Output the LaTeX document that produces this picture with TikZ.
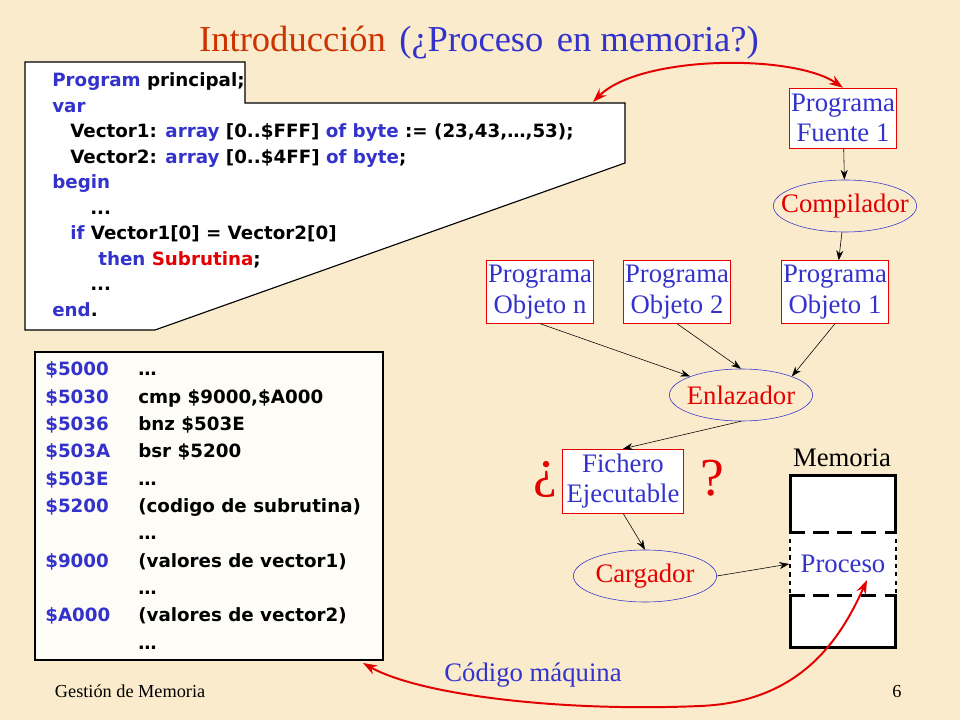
\documentclass[tikz,border=0pt]{standalone}
\usepackage{fontspec}
\setmainfont{Liberation Serif}
\newfontfamily\codefont{DejaVu Sans}
\usetikzlibrary{arrows.meta,shapes.geometric}
\definecolor{fondo}{RGB}{249,235,203}
\definecolor{azul}{RGB}{51,51,204}
\definecolor{rojo}{RGB}{228,0,0}
\definecolor{naranja}{RGB}{204,51,0}
\newcommand{\kw}[1]{\textcolor{azul}{#1}}

\begin{document}
\begin{tikzpicture}[x=0.025cm,y=-0.025cm,>={Stealth[length=7pt,width=5pt]},
    caja/.style={draw=rojo,fill=white,text=azul,align=center,inner xsep=1pt,
        minimum height=1.5cm,font=\fontsize{19}{21.5}\selectfont},
    elip/.style={ellipse,draw=azul,text=rojo,inner sep=0pt,minimum width=3.58cm,
        minimum height=1.3cm,font=\fontsize{19}{21.5}\selectfont},
    codigo/.style={anchor=base west,inner sep=0pt,font=\codefont\bfseries\fontsize{13}{15}\selectfont},
    flecha/.style={->,black},
    rojoflecha/.style={{Stealth[length=10pt,width=7pt]}-{Stealth[length=10pt,width=7pt]},rojo,line width=1.4pt}]
        \fill[fondo] (0,0) rectangle (960,720);
        \useasboundingbox (0,0) rectangle (960,720);
        \node[anchor=base,font=\fontsize{26}{30}\selectfont] (titulo) at (479,52)
            {\textcolor{naranja}{Introducción}\ \hspace{3pt}\textcolor{azul}{(¿Proceso\ \hspace{3pt}en memoria?)}};
        % programa fuente
        \draw[fill=white,line width=0.8pt] (25,62) -- (245,62) -- (245,103) -- (625,103)
            -- (625,163) -- (155,330) -- (25,330) -- cycle;
        \foreach \yy/\xx/\linea in {87/52/{\kw{Program} principal;}, 112.5/52/{\kw{var}},
            138/70/{Vector1: \kw{array} [0..\$FFF] \kw{of byte} := (23,43,…,53);},
            163.5/70/{Vector2: \kw{array} [0..\$4FF] \kw{of byte};}, 189/52/{\kw{begin}},
            214.5/90/{...}, 240/70/{\kw{if} Vector1[0] = Vector2[0]},
            265.5/98/{\kw{then} \textcolor{rojo}{Subrutina};}, 291/90/{...}, 316.5/52/{\kw{end}.}}
            \node[codigo] at (\xx,\yy) {\linea};
        % codigo maquina
        \draw[fill=white!85!fondo,line width=0.8pt] (35,352) rectangle (383,660);
        \foreach \i/\dir/\ins in {0/\$5000/…, 1/\$5030/{cmp \$9000,\$A000}, 2/\$5036/{bnz \$503E},
            3/\$503A/{bsr \$5200}, 4/\$503E/…, 5/\$5200/{(codigo de subrutina)}, 6//…,
            7/\$9000/{(valores de vector1)}, 8//…, 9/\$A000/{(valores de vector2)}, 10//…}
        {
            \node[codigo,text=azul] at (45,376+27.3*\i) {\dir};
            \node[codigo] at (138,376+27.3*\i) {\ins};
        }
        % diagrama
        \node[caja] (pf1) at (843,118) {Programa\\Fuente 1};
        \node[elip] (comp) at (845,206) {\makebox[0pt]{Compilador}};
        \node[caja] (po1) at (835,292) {Programa\\Objeto 1};
        \node[caja] (po2) at (677,292) {Programa\\Objeto 2};
        \node[caja] (pon) at (540,292) {Programa\\Objeto n};
        \node[elip] (enl) at (741,395) {\makebox[0pt]{Enlazador}};
        \node[caja,minimum width=3.02cm] (fich) at (623,481) {Fichero\\Ejecutable};
        \node[elip] (carg) at (645,576) {\makebox[0pt]{Cargador}};
        \node[text=rojo,font=\fontsize{38}{40}\selectfont] (abre) at (545,479) {¿};
        \node[text=rojo,font=\fontsize{38}{40}\selectfont] (cierra) at (712,478) {?};
        \node[anchor=base,font=\fontsize{19}{21.5}\selectfont] (memtxt) at (842,467) {Memoria};
        \node[draw,fill=white,line width=2.6pt,minimum width=2.62cm,minimum height=4.3cm] (mem) at (843,561.5) {};
        \node[fill=white,draw=white,dashed,line width=2pt,minimum width=2.62cm,minimum height=1.5cm,
            text=azul,font=\fontsize{19}{21.5}\selectfont] (proc) at (843,564) {Proceso};
        \draw[line width=2pt,dash pattern=on 11pt off 6pt] (proc.north west) -- (proc.north east)
            (proc.south west) -- (proc.south east);
        \draw[flecha] (pf1) -- (comp);
        \draw[flecha] (comp) -- (po1);
        \draw[flecha] (pon.south) -- (enl.north west);
        \draw[flecha] (po2.south) -- (enl.north);
        \draw[flecha] (po1.south) -- (enl.north east);
        \draw[flecha] (enl.south) -- (fich.north);
        \draw[flecha] (fich.south) -- (carg.north);
        \draw[flecha] (carg.east) -- (proc.west);
        \coordinate (fuente) at (593,102);
        \coordinate (listado) at (363,663);
        \coordinate (destino) at (867,580);
        \draw[rojoflecha] (fuente) .. controls +(47,-47) and +(-50,-34) .. (pf1.north);
        \draw[rojoflecha] (listado) .. controls (420,695) and (560,712) .. (700,706)
            .. controls (800,702) and (840,640) .. (destino);
        \node[anchor=base,text=azul,font=\fontsize{19}{21.5}\selectfont] (cm) at (533,681) {Código máquina};
        \node[anchor=base west,font=\fontsize{13}{15}\selectfont] (pie) at (50,697) {Gestión de Memoria};
        \node[anchor=base,font=\fontsize{13}{15}\selectfont] (num) at (897,697) {6};
\end{tikzpicture}
\end{document}
